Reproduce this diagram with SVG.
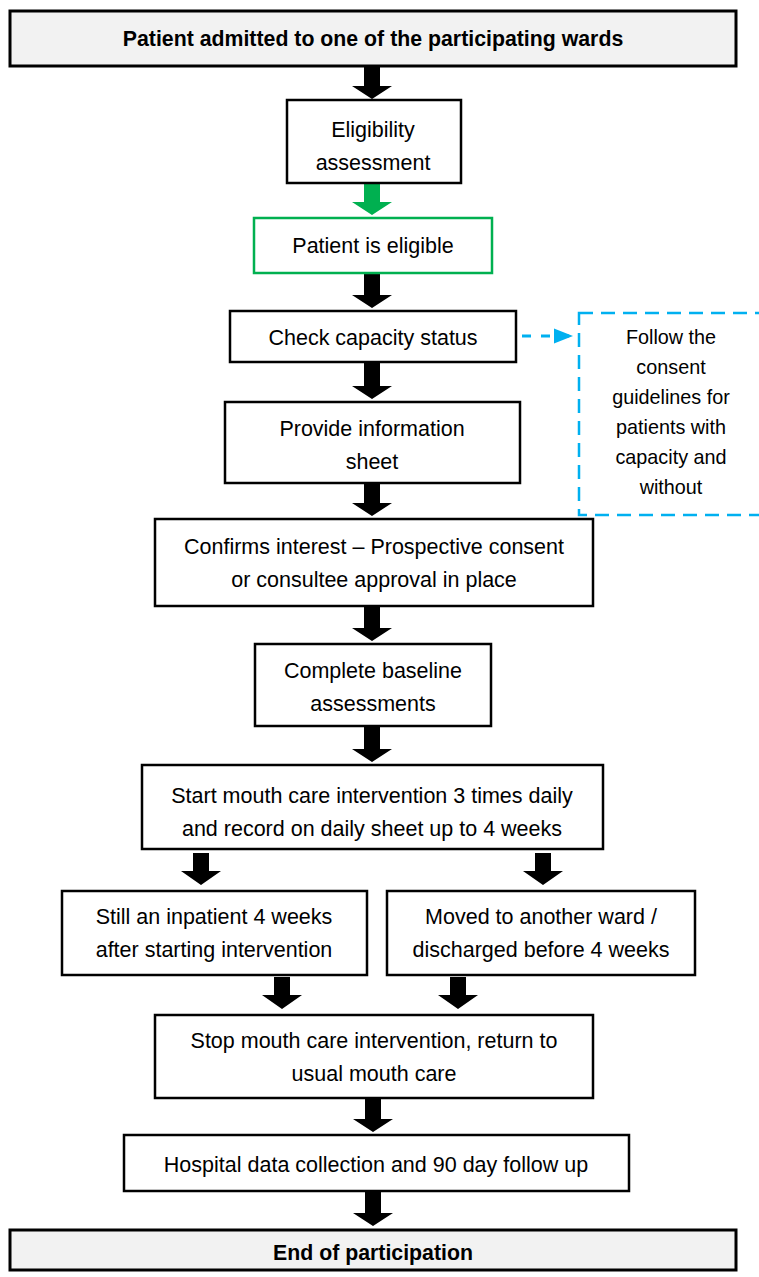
<svg xmlns="http://www.w3.org/2000/svg" width="759" height="1277" viewBox="0 0 759 1277">
<style>
.box{fill:#ffffff;stroke:#000000;stroke-width:2.5}
.term{fill:#f2f2f2;stroke:#000000;stroke-width:3}
.green{fill:#ffffff;stroke:#00b050;stroke-width:2.5}
.dash{fill:#ffffff;stroke:#00b0f0;stroke-width:2.5;stroke-dasharray:14 8}
.t{font-family:"Liberation Sans",Arial,sans-serif;font-size:21.5px;fill:#000000;text-anchor:middle}
.tb{font-family:"Liberation Sans",Arial,sans-serif;font-size:21.3px;font-weight:bold;fill:#000000;text-anchor:middle}
.ts{font-family:"Liberation Sans",Arial,sans-serif;font-size:19.8px;fill:#000000;text-anchor:middle}
.arr{fill:#000000}
.garr{fill:#00b050}
</style>
<defs>
<marker id="bluehead" viewBox="0 0 10 10" refX="10" refY="5" markerWidth="6.5" markerHeight="5.2" markerUnits="strokeWidth" orient="auto" preserveAspectRatio="none">
<path d="M0,0 L10,5 L0,10 z" fill="#00b0f0"/>
</marker>
</defs>
<g id="connectors">
<polygon class="arr" points="364,67 380,67 380,86 392,86 372,99 352,86 364,86"/>
<polygon class="garr" points="364,183 380,183 380,202 392,202 372,215 352,202 364,202"/>
<polygon class="arr" points="364,274 380,274 380,295 392,295 372,308 352,295 364,295"/>
<polygon class="arr" points="364,363 380,363 380,386 392,386 372,399 352,386 364,386"/>
<polygon class="arr" points="364,484 380,484 380,503 392,503 372,516 352,503 364,503"/>
<polygon class="arr" points="364,607 380,607 380,628 392,628 372,641 352,628 364,628"/>
<polygon class="arr" points="364,727 380,727 380,749 392,749 372,762 352,749 364,749"/>
<polygon class="arr" points="193,853 209,853 209,871 221,871 201,885 181,871 193,871"/>
<polygon class="arr" points="535,853 551,853 551,871 563,871 543,885 523,871 535,871"/>
<polygon class="arr" points="274,977 290,977 290,995 302,995 282,1009 262,995 274,995"/>
<polygon class="arr" points="450,977 466,977 466,995 478,995 458,1009 438,995 450,995"/>
<polygon class="arr" points="365,1099 381,1099 381,1119 393,1119 373,1132 353,1119 365,1119"/>
<polygon class="arr" points="365,1192 381,1192 381,1213 393,1213 373,1226 353,1213 365,1213"/>
<line x1="522" y1="336" x2="573" y2="336" stroke="#00b0f0" stroke-width="3" stroke-dasharray="9 10" marker-end="url(#bluehead)"/>
</g>
<g id="n_admitted">
<rect class="term" x="10" y="11" width="726" height="55"/>
<text class="tb" x="373" y="46">Patient admitted to one of the participating wards</text>
</g>
<g id="n_eligibility">
<rect class="box" x="287" y="100" width="174" height="83"/>
<text class="t" x="373" y="137">Eligibility</text>
<text class="t" x="373" y="170">assessment</text>
</g>
<g id="n_eligible">
<rect class="green" x="254" y="218" width="238" height="55"/>
<text class="t" x="373" y="253">Patient is eligible</text>
</g>
<g id="n_capacity">
<rect class="box" x="230" y="311" width="286" height="51"/>
<text class="t" x="373" y="345">Check capacity status</text>
</g>
<g id="n_consent_guidelines">
<rect class="dash" x="579" y="313" width="200" height="202"/>
<text class="ts" x="671" y="344">Follow the</text>
<text class="ts" x="671" y="374">consent</text>
<text class="ts" x="671" y="404">guidelines for</text>
<text class="ts" x="671" y="434">patients with</text>
<text class="ts" x="671" y="464">capacity and</text>
<text class="ts" x="671" y="494">without</text>
</g>
<g id="n_info">
<rect class="box" x="225" y="402" width="295" height="81"/>
<text class="t" x="372" y="436">Provide information</text>
<text class="t" x="372" y="469">sheet</text>
</g>
<g id="n_confirms">
<rect class="box" x="155" y="519" width="438" height="87"/>
<text class="t" x="374" y="554">Confirms interest – Prospective consent</text>
<text class="t" x="374" y="587">or consultee approval in place</text>
</g>
<g id="n_baseline">
<rect class="box" x="255" y="644" width="236" height="82"/>
<text class="t" x="373" y="678">Complete baseline</text>
<text class="t" x="373" y="711">assessments</text>
</g>
<g id="n_start">
<rect class="box" x="142" y="765" width="461" height="84"/>
<text class="t" x="372" y="803">Start mouth care intervention 3 times daily</text>
<text class="t" x="372" y="836">and record on daily sheet up to 4 weeks</text>
</g>
<g id="n_inpatient">
<rect class="box" x="62" y="891" width="305" height="84"/>
<text class="t" x="214" y="924">Still an inpatient 4 weeks</text>
<text class="t" x="214" y="957">after starting intervention</text>
</g>
<g id="n_moved">
<rect class="box" x="387" y="891" width="308" height="84"/>
<text class="t" x="541" y="924">Moved to another ward /</text>
<text class="t" x="541" y="957">discharged before 4 weeks</text>
</g>
<g id="n_stop">
<rect class="box" x="155" y="1015" width="438" height="83"/>
<text class="t" x="374" y="1048">Stop mouth care intervention, return to</text>
<text class="t" x="374" y="1081">usual mouth care</text>
</g>
<g id="n_hospital">
<rect class="box" x="124" y="1135" width="505" height="56"/>
<text class="t" x="376" y="1172">Hospital data collection and 90 day follow up</text>
</g>
<g id="n_end">
<rect class="term" x="10" y="1230" width="726" height="40"/>
<text class="tb" x="373" y="1260">End of participation</text>
</g>
</svg>
